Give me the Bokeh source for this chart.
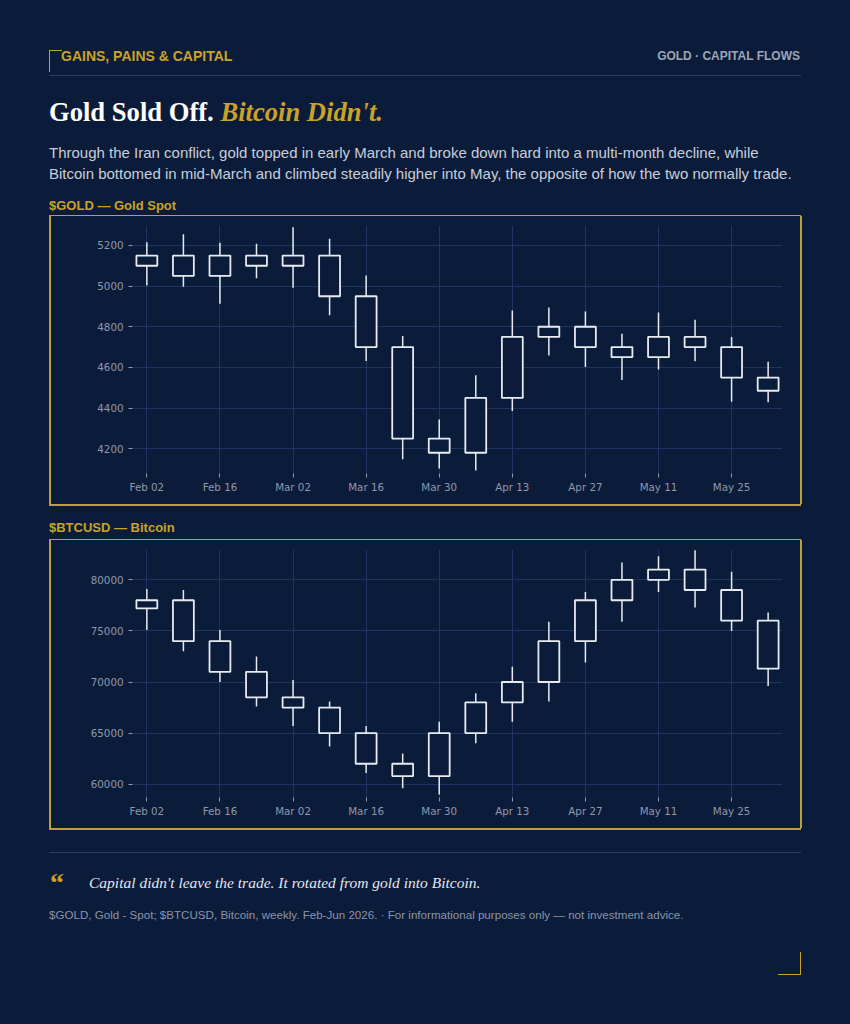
import numpy as np
import pandas as pd
from bokeh.plotting import figure
from bokeh.models import (Div, Range1d, FixedTicker, DatetimeTickFormatter,
                          ColumnDataSource)
from bokeh.layouts import column, row
from bokeh.embed import file_html
from bokeh.resources import INLINE

# ---------------- data ----------------
week_dates = ["2026-02-02", "2026-02-09", "2026-02-16", "2026-02-23", "2026-03-02",
              "2026-03-09", "2026-03-16", "2026-03-23", "2026-03-30", "2026-04-06",
              "2026-04-13", "2026-04-20", "2026-04-27", "2026-05-04", "2026-05-11",
              "2026-05-18", "2026-05-25", "2026-06-01"]
x_tick_dates = ["2026-02-02", "2026-02-16", "2026-03-02", "2026-03-16", "2026-03-30",
                "2026-04-13", "2026-04-27", "2026-05-11", "2026-05-25"]

gold_open = [5100, 5150, 5150, 5100, 5150, 5150, 4950, 4700, 4250, 4180, 4450, 4750,
             4800, 4700, 4650, 4700, 4700, 4550]
gold_close = [5150, 5050, 5050, 5150, 5100, 4950, 4700, 4250, 4180, 4450, 4750, 4800,
              4700, 4650, 4750, 4750, 4550, 4485]
gold_high = [5215, 5255, 5213, 5208, 5290, 5233, 5052, 4754, 4344, 4561, 4880, 4895,
             4875, 4766, 4870, 4834, 4750, 4628]
gold_low = [5003, 4997, 4913, 5039, 4992, 4856, 4631, 4148, 4102, 4093, 4385, 4659,
            4602, 4538, 4590, 4630, 4431, 4428]
gold_yticks = [4200, 4400, 4600, 4800, 5000, 5200]

btc_open = [77200, 78000, 74000, 71000, 68500, 67500, 65000, 62000, 60800, 65000, 68000,
            70000, 74000, 78000, 80000, 81000, 79000, 76000]
btc_close = [78000, 74000, 71000, 68500, 67500, 65000, 62000, 60800, 65000, 68000, 70000,
             74000, 78000, 80000, 81000, 79000, 76000, 71300]
btc_high = [79100, 79000, 75100, 72500, 70200, 68100, 65700, 63000, 66100, 68900, 71500,
            75900, 78800, 81700, 82300, 82900, 80800, 76800]
btc_low = [75100, 73000, 70000, 67600, 65700, 63700, 61100, 59600, 59000, 64000, 66100,
           68100, 71900, 75900, 78800, 77300, 75000, 69600]
btc_yticks = [60000, 65000, 70000, 75000, 80000]

# ---------------- style ----------------
BG = "#0b1c3a"
GOLD = "#c9a227"
FRAME = "#bf9f3a"
CANDLE = "#e8ebf2"
GRID = "#1f3461"
TICK = "#8f98ab"
RULE = "#2a3c62"
SANS = "'Liberation Sans', Arial, sans-serif"
SERIF = "'Liberation Serif', 'Times New Roman', serif"

DAY = pd.Timedelta(days=1)


def candle_fig(o, c, h, l, yticks, yrange):
    dates = pd.to_datetime(week_dates)
    src = ColumnDataSource(dict(
        date=dates, high=h, low=l,
        top=np.maximum(o, c), bottom=np.minimum(o, c)))
    p = figure(width=749, height=288, x_axis_type="datetime",
               x_range=Range1d(dates[0] - 2.75 * DAY, dates[-1] + 2.75 * DAY),
               y_range=Range1d(*yrange),
               output_backend="svg", toolbar_location=None, tools="",
               min_border_left=81, min_border_right=18, min_border_top=9,
               min_border_bottom=31)
    p.background_fill_color = BG
    p.border_fill_color = BG
    p.outline_line_color = None
    p.segment(x0="date", y0="low", x1="date", y1="high", source=src,
              line_color=CANDLE, line_width=1.5)
    p.vbar(x="date", width=4 * 86400000, top="top", bottom="bottom", source=src,
           fill_color=BG, line_color=CANDLE, line_width=1.8)
    p.xaxis.ticker = FixedTicker(ticks=[pd.Timestamp(d).value // 10**6 for d in x_tick_dates])
    fmt = "%b %d"
    p.xaxis.formatter = DatetimeTickFormatter(days=fmt, months=fmt, hours=fmt,
                                              hourmin=fmt, years=fmt)
    p.yaxis.ticker = FixedTicker(ticks=yticks)
    for ax in (p.xaxis[0], p.yaxis[0]):
        ax.axis_line_color = None
        ax.major_tick_line_color = TICK
        ax.major_tick_out = 4
        ax.major_tick_in = 0
        ax.minor_tick_line_color = None
        ax.major_label_text_color = TICK
        ax.major_label_text_font = "DejaVu Sans"
        ax.major_label_text_font_size = "10.3px"
    p.xaxis.major_label_standoff = 3
    p.yaxis.major_label_standoff = 5
    p.xgrid.grid_line_color = GRID
    p.ygrid.grid_line_color = GRID
    p.xgrid.ticker = p.xaxis[0].ticker
    p.ygrid.ticker = p.yaxis[0].ticker
    return p


gold_fig = candle_fig(gold_open, gold_close, gold_high, gold_low, gold_yticks, (4078, 5298))
btc_fig = candle_fig(btc_open, btc_close, btc_high, btc_low, btc_yticks, (58700, 82965))


def el(left, top, style, text="", right=None):
    pos = f"right:{right}px;" if right is not None else f"left:{left}px;"
    return f'<div style="position:absolute;{pos}top:{top}px;{style}">{text}</div>'


def box(w, h, inner):
    return (f'<div style="position:relative;width:{w}px;height:{h}px;overflow:visible;">'
            + inner + '</div>')


def hline(top, color=FRAME, h=1.5):
    return el(41, top, f"width:752px;height:{h}px;background:{color};")


header_html = box(834, 208, "".join([
    el(41, 42, f"box-sizing:border-box;width:13px;height:22px;border-left:1.5px solid {GOLD};"
               f"border-top:1.5px solid {GOLD};"),
    el(53, 41.2, f"font-family:{SANS};font-size:14px;line-height:14px;font-weight:bold;"
                 f"color:{GOLD};white-space:nowrap;", "GAINS, PAINS &amp; CAPITAL"),
    el(0, 41.8, f"font-family:{SANS};font-size:12px;line-height:12px;font-weight:bold;"
                f"color:#9ea6b7;white-space:nowrap;", "GOLD · CAPITAL FLOWS", right=42),
    hline(67, RULE, 1),
    el(41, 90.7, f"font-family:{SERIF};font-size:26.6px;line-height:26.6px;font-weight:bold;"
                 f"color:#ffffff;white-space:nowrap;",
       f'Gold Sold Off. <span style="color:{GOLD};font-style:italic;">Bitcoin Didn\'t.</span>'),
    el(41, 133.6, f"width:752px;font-family:{SANS};font-size:15px;line-height:21px;"
                  f"color:#c8cedb;",
       "Through the Iran conflict, gold topped in early March and broke down hard into a "
       "multi-month decline, while Bitcoin bottomed in mid-March and climbed steadily higher "
       "into May, the opposite of how the two normally trade."),
    el(41, 190.5, f"font-family:{SANS};font-size:13px;line-height:13px;font-weight:bold;"
                  f"color:{GOLD};white-space:nowrap;", "$GOLD — Gold Spot"),
    hline(206.5),
]))

mid_html = box(834, 36, "".join([
    hline(0),
    el(41, 17, f"font-family:{SANS};font-size:13px;line-height:13px;"
               f"font-weight:bold;color:{GOLD};white-space:nowrap;", "$BTCUSD — Bitcoin"),
    hline(34.5),
]))

footer_html = box(834, 188, "".join([
    hline(0),
    el(41, 24, f"width:752px;height:1px;background:{RULE};"),
    el(42, 40.5, f"font-family:{SERIF};font-size:28px;line-height:28px;font-weight:bold;"
                 f"color:{GOLD};white-space:nowrap;", "“"),
    el(81, 46.5, f"font-family:{SERIF};font-size:15.5px;line-height:16px;font-style:italic;"
                 f"color:#e3e6ee;white-space:nowrap;",
       "Capital didn't leave the trade. It rotated from gold into Bitcoin."),
    el(41, 81.2, f"font-family:{SANS};font-size:11.6px;line-height:11.6px;color:#8b94a7;"
                 f"white-space:nowrap;",
       "$GOLD, Gold - Spot; $BTCUSD, Bitcoin, weekly. Feb-Jun 2026. · For informational "
       "purposes only — not investment advice."),
    el(770, 124, f"box-sizing:border-box;width:23px;height:23px;border-right:1.5px solid {GOLD};"
                 f"border-bottom:1.5px solid {GOLD};"),
]))


def side(width, left):
    return Div(text=box(width, 288, el(left, 0, f"width:1.5px;height:288px;background:{FRAME};")),
               width=width, height=288, margin=0)


header = Div(text=header_html, width=834, height=208, margin=0)
mid = Div(text=mid_html, width=834, height=36, margin=0)
footer = Div(text=footer_html, width=834, height=188, margin=0)

layout = column(
    header,
    row(side(43, 41), gold_fig, side(2, 0), spacing=0),
    mid,
    row(side(43, 41), btc_fig, side(2, 0), spacing=0),
    footer,
    spacing=0,
    styles={"background": BG},
)

try:
    from bokeh.core.templates import get_env
    tmpl = get_env().from_string(
        '{% extends "file.html" %}{% block postamble %}'
        f'<style>html,body{{background:{BG};height:auto;}} body{{margin:8px;}}</style>'
        '{% endblock %}')
    html = file_html(layout, INLINE, template=tmpl, title="Gold vs Bitcoin")
except Exception:
    html = file_html(layout, INLINE, title="Gold vs Bitcoin")

open("out.html", "w").write(html)
